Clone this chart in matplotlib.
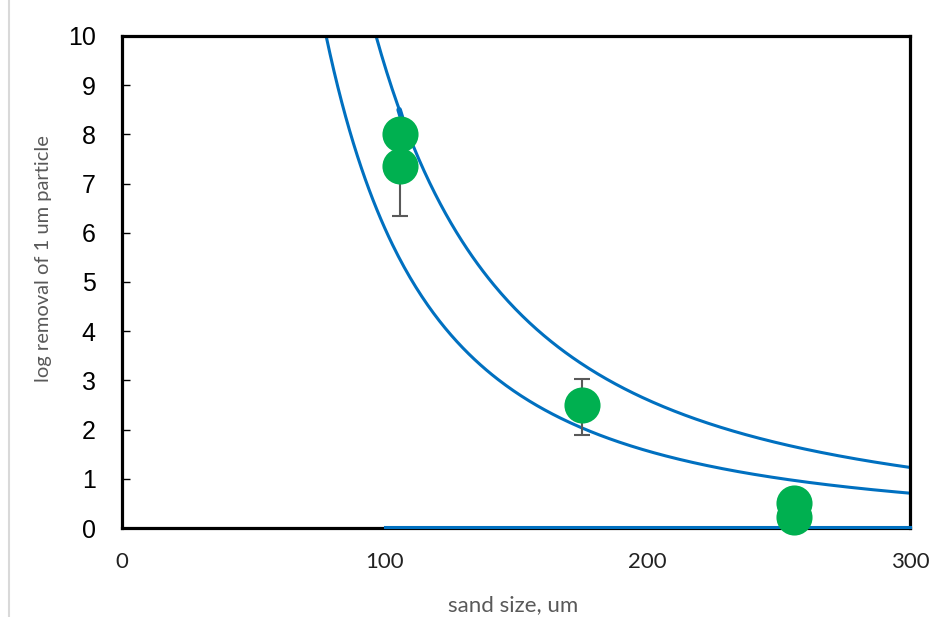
import numpy as np
import matplotlib.pyplot as plt
from matplotlib.lines import Line2D

# measured points (sand size, log removal)
sand_size = [106, 106, 175, 256, 256]
log_removal = [8.0, 7.35, 2.5, 0.5, 0.22]

# error bars (only two points have them)
err_x = [106, 175]
err_y = [7.35, 2.5]
err_low = [1.0, 0.6]
err_high = [0.0, 0.53]

# model curves: y = coef * x ** (-expo)
upper_coef, upper_expo = 10 * 96.7 ** 1.85, 1.85
lower_coef, lower_expo = 10 * 77.7 ** 1.96, 1.96

# short segment and baseline
seg_x = [105.5, 107.5]
seg_y = [8.5, 8.15]
base_x = [100, 300]
base_y = [0.03, 0.03]

blue = '#0070C0'
green = '#00B050'
calib = ['Lato', 'DejaVu Sans']

fig = plt.figure(figsize=(9.48, 6.17), dpi=100)
ax = fig.add_axes([0.1287, 0.1442, 0.8313, 0.7975])

xu = np.linspace(96.7, 300, 300)
xl = np.linspace(77.7, 300, 300)
ax.plot(xu, upper_coef * xu ** (-upper_expo), color=blue, lw=2.2, zorder=2)
ax.plot(xl, lower_coef * xl ** (-lower_expo), color=blue, lw=2.2, zorder=2)
ax.plot(seg_x, seg_y, color=blue, lw=4, solid_capstyle='round', zorder=2)
ax.plot(base_x, base_y, color=blue, lw=2.2, zorder=4, clip_on=False)

ax.errorbar(err_x, err_y, yerr=[err_low, err_high], fmt='none', ecolor='#595959',
            elinewidth=1.5, capsize=6, capthick=1.5, zorder=3)
ax.plot(sand_size, log_removal, 'o', color=green, ms=26, mec='none', zorder=5, clip_on=False)

ax.set_xlim(0, 300)
ax.set_ylim(0, 10)
ax.set_xticks([0, 100, 200, 300])
ax.set_yticks(range(0, 11))

for s in ax.spines.values():
    s.set_linewidth(2.3)
    s.set_color('black')

ax.tick_params(axis='y', direction='in', length=6, width=1, pad=19, labelsize=18)
ax.tick_params(axis='x', length=0, pad=17, labelsize=16)
for t in ax.get_yticklabels():
    t.set_family(['Liberation Sans', 'DejaVu Sans'])
for t in ax.get_xticklabels():
    t.set_family(calib)
    t.set_color('#222222')

ax.set_xlabel('sand size, um', color='#595959', fontsize=16, family=calib)
ax.xaxis.set_label_coords(0.496, -0.156)
ax.xaxis.label.set_va('center')
ax.set_ylabel('log removal of 1 um particle', color='#595959', fontsize=14.5, family=calib)
ax.yaxis.set_label_coords(-0.099, 0.547)
ax.yaxis.label.set_va('center')
ax.yaxis.label.set_ha('center')

fig.add_artist(Line2D([9 / 948, 9 / 948], [0, 1], color='#d9d9d9', lw=1.5))

fig.savefig('out.png', dpi=100)
